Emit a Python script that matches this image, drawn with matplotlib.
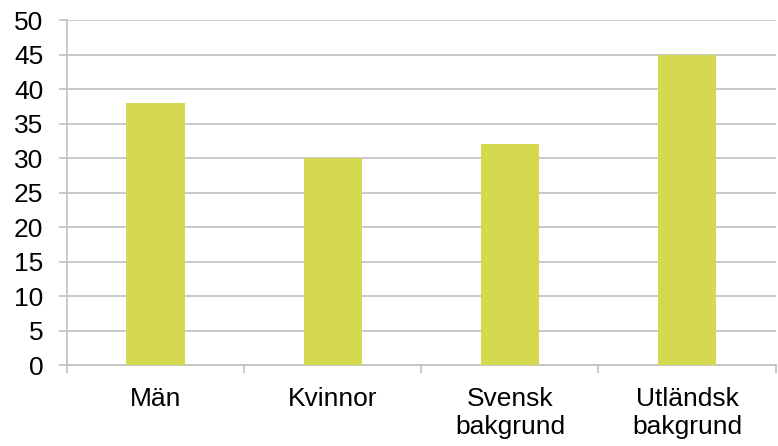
import numpy as np
import matplotlib.pyplot as plt

plt.rcParams['font.family'] = ['Liberation Sans', 'DejaVu Sans']

categories = ['Män', 'Kvinnor', 'Svensk\nbakgrund', 'Utländsk\nbakgrund']
values = [38, 30, 32, 45]

fig = plt.figure(figsize=(7.78, 4.46), dpi=100)
ax = fig.add_axes([0.0861, 0.1816, 0.9109, 0.7734])

x = np.arange(len(categories))
ax.bar(x, values, width=0.33, color='#d4d94f', zorder=3)

ax.set_xlim(-0.5, len(categories) - 0.5)
ax.set_ylim(0, 50)
ax.set_yticks(np.arange(0, 51, 5))
ax.yaxis.grid(True, color='#c0c0c0', linewidth=1.2, zorder=0)

# category labels centred, tick marks between categories
ax.set_xticks(x)
ax.set_xticklabels(categories, fontsize=19, linespacing=1.2, va='top')
ax.tick_params(axis='x', length=0, pad=16)
ax.set_xticks(np.arange(-0.5, len(categories), 1), minor=True)
ax.tick_params(axis='x', which='minor', length=6, color='#c0c0c0', width=1.2)
ax.tick_params(axis='y', labelsize=19, length=6, color='#c0c0c0', width=1.2, pad=11)

for side in ['top', 'right']:
    ax.spines[side].set_visible(False)
for side in ['left', 'bottom']:
    ax.spines[side].set_color('#c0c0c0')
    ax.spines[side].set_linewidth(1.2)

fig.savefig('out.png', dpi=100)
